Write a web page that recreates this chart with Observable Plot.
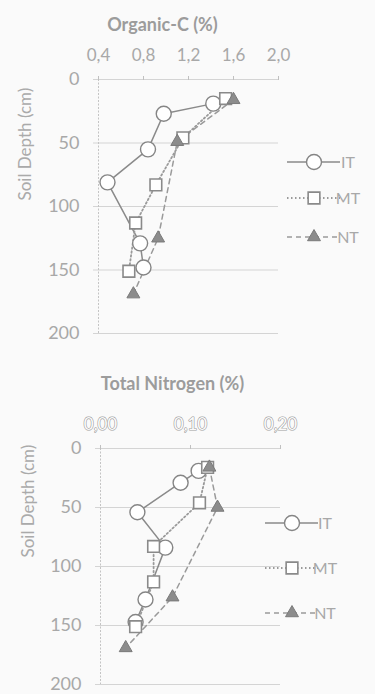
<!DOCTYPE html>
<html><head><meta charset="utf-8">
<script src="https://cdn.jsdelivr.net/npm/d3@7"></script>
<script src="https://cdn.jsdelivr.net/npm/@observablehq/plot@0.6"></script>
<style>
body{margin:0;background:#fafafa;}
#wrap{position:relative;width:375px;height:694px;overflow:hidden;}
#wrap svg{display:block;}
</style></head><body><div id="wrap"></div>
<script>
const seriesNames = ["IT", "MT", "NT"];
const depthTicks = [0, 50, 100, 150, 200];

// Organic-C (%)
const ocTicks = [0.4, 0.8, 1.2, 1.6, 2.0];
const ocDepthIT = [19, 27, 55, 81, 129, 148];
const ocIT = [1.42, 0.98, 0.84, 0.48, 0.77, 0.80];
const ocDepthMT = [15, 46, 83, 113, 151];
const ocMT = [1.53, 1.15, 0.91, 0.73, 0.67];
const ocDepthNT = [16, 49, 125, 169];
const ocNT = [1.60, 1.10, 0.93, 0.71];

// Total Nitrogen (%)
const tnTicks = [0.0, 0.1, 0.2];
const tnDepthIT = [19, 29, 54, 84, 128, 147];
const tnIT = [0.109, 0.089, 0.041, 0.072, 0.050, 0.039];
const tnDepthMT = [16, 46, 83, 113, 151];
const tnMT = [0.119, 0.110, 0.059, 0.059, 0.039];
const tnDepthNT = [16, 50, 126, 169];
const tnNT = [0.121, 0.130, 0.080, 0.028];

const rows = (vals, depths) => vals.map((v, i) => ({v, d: depths[i]}));

const styles = {
  IT: {line: {stroke: "#8a8a8a", strokeWidth: 1.5}, dot: {symbol: "circle", r: 7.5, fill: "white", stroke: "#858585", strokeWidth: 1.4}},
  MT: {line: {stroke: "#9a9a9a", strokeWidth: 1.8, strokeDasharray: "1.5,2.5"}, dot: {symbol: "square", r: 6.6, fill: "white", stroke: "#8a8a8a", strokeWidth: 1.6}},
  NT: {line: {stroke: "#9a9a9a", strokeWidth: 1.5, strokeDasharray: "5,4"}, dot: {symbol: "triangle", r: 4.8, fill: "#8c8c8c", stroke: "#7a7a7a", strokeWidth: 1}}
};

function makeChart(o) {
  const sets = {IT: rows(o.IT[0], o.IT[1]), MT: rows(o.MT[0], o.MT[1]), NT: rows(o.NT[0], o.NT[1])};
  const marks = [
    Plot.gridY(depthTicks, {stroke: "#d4d4d4", strokeOpacity: 1}),
    Plot.axisY(depthTicks, {tickSize: 5, tickFormat: () => "", stroke: "#d4d4d4", label: null}),
    Plot.axisY(depthTicks, {tickSize: 0, tickPadding: 19, fill: "#a8a8a8", fontSize: 18, label: null}),
    Plot.ruleX([o.xDomain[0]], {stroke: "#c4c4c4", strokeDasharray: "2,1.5"}),
    Plot.axisX(o.xTicks, {anchor: "top", tickSize: 4, tickFormat: () => "", stroke: "#c0c0c0", label: null}),
    Plot.text(o.xTicks, {x: d => d, frameAnchor: "top", dy: -31, text: o.fmt, fontSize: 17,
      fill: o.hollow ? "#fbfbfb" : "#a8a8a8", stroke: o.hollow ? "#9c9c9c" : null, strokeWidth: 1.2}),
    Plot.text([o.title], {text: d => d, frameAnchor: "top", dx: o.titleDx, dy: o.titleDy, fontSize: 18, fontWeight: "bold", fill: "#9c9c9c"}),
    Plot.text(["Soil Depth (cm)"], {text: d => d, frameAnchor: "left", rotate: -90, dx: o.labDx, dy: o.labDy, fontSize: 17, fill: "#aaaaaa"})
  ];
  for (const s of seriesNames) marks.push(Plot.line(sets[s], {x: "v", y: "d", ...styles[s].line}));
  for (const s of seriesNames) marks.push(Plot.dot(sets[s], {x: "v", y: "d", ...styles[s].dot}));
  const svg = Plot.plot({
    width: 375, height: o.height,
    marginTop: o.mt, marginBottom: o.mb, marginLeft: o.ml, marginRight: 375 - o.ml - 180,
    style: {fontFamily: "Lato, 'Open Sans', sans-serif", background: "transparent", color: "#a6a6a6", overflow: "visible"},
    x: {domain: o.xDomain, axis: null},
    y: {domain: [0, 200], reverse: true, axis: null},
    marks
  });
  // legend
  const g = d3.select(svg).append("g");
  o.legend.ys.forEach((y, i) => {
    const s = seriesNames[i], st = styles[s];
    g.append("line").attr("x1", o.legend.x0).attr("x2", o.legend.x1).attr("y1", y).attr("y2", y)
      .attr("stroke", st.line.stroke).attr("stroke-width", st.line.strokeWidth)
      .attr("stroke-dasharray", st.line.strokeDasharray || null);
    const sym = {circle: d3.symbolCircle, square: d3.symbolSquare, triangle: d3.symbolTriangle}[st.dot.symbol];
    g.append("path").attr("d", d3.symbol(sym, Math.PI * st.dot.r * st.dot.r)())
      .attr("transform", `translate(${o.legend.xm},${y})`)
      .attr("fill", st.dot.fill).attr("stroke", st.dot.stroke).attr("stroke-width", st.dot.strokeWidth);
    g.append("text").attr("x", o.legend.xt).attr("y", y).attr("dy", "0.35em")
      .attr("fill", "#a8a8a8").attr("font-size", 16).text(s);
  });
  return svg;
}

const wrap = document.getElementById("wrap");
wrap.appendChild(makeChart({
  height: 345, mt: 79, mb: 12, ml: 98,
  xDomain: [0.4, 2.0], xTicks: ocTicks, fmt: d => d.toFixed(1).replace(".", ","),
  title: "Organic-C (%)", titleDx: -26, titleDy: -61, labDx: -73, labDy: -6,
  IT: [ocIT, ocDepthIT], MT: [ocMT, ocDepthMT], NT: [ocNT, ocDepthNT],
  legend: {ys: [162, 198, 237], x0: 287, x1: 340, xm: 314, xt: 348}
}));
wrap.appendChild(makeChart({
  height: 349, mt: 103, mb: 10, ml: 100, hollow: true,
  xDomain: [0, 0.2], xTicks: tnTicks, fmt: d => d.toFixed(2).replace(".", ","),
  title: "Total Nitrogen (%)", titleDx: -18, titleDy: -71, labDx: -72, labDy: -9,
  IT: [tnIT, tnDepthIT], MT: [tnMT, tnDepthMT], NT: [tnNT, tnDepthNT],
  legend: {ys: [178, 223, 268], x0: 265, x1: 318, xm: 292, xt: 325}
}));
</script></body></html>
